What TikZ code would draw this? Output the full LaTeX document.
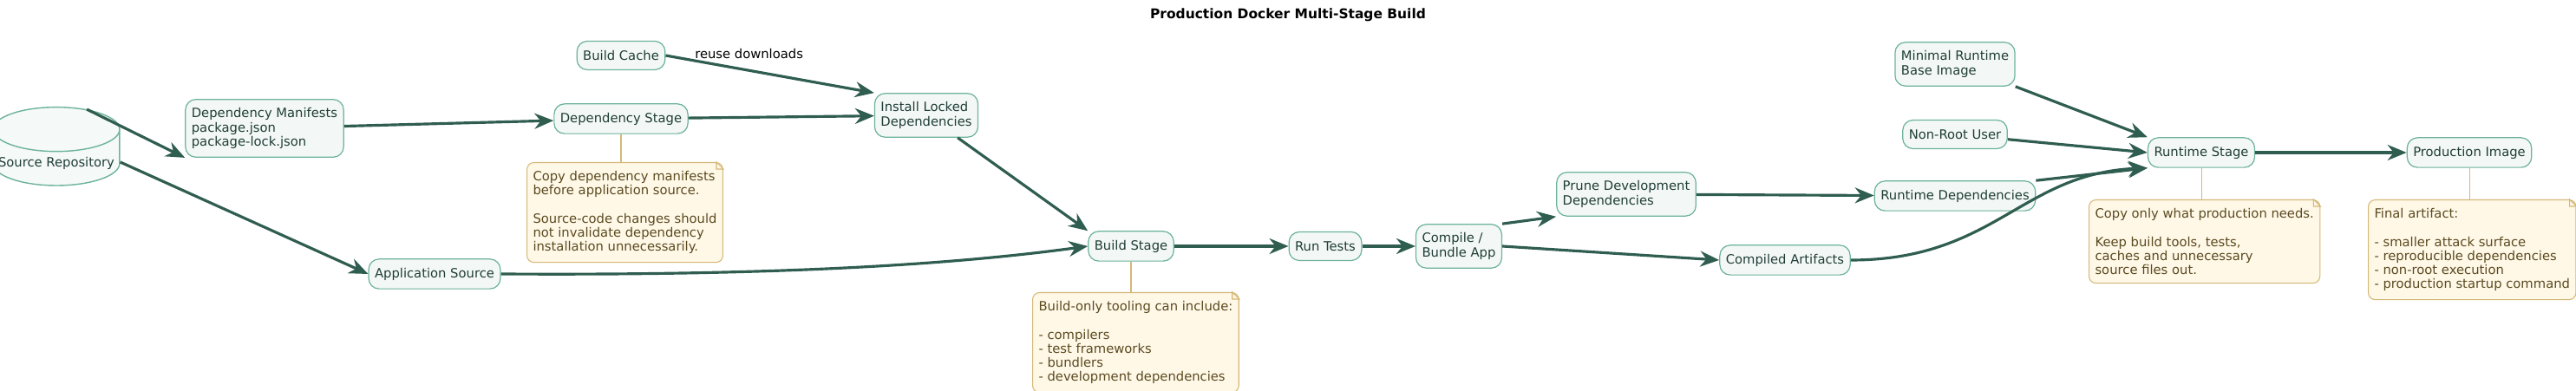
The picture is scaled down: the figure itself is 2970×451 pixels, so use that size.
\documentclass[tikz,border=0pt]{standalone}
\usepackage{fontspec}
\setmainfont{DejaVu Sans}
\usetikzlibrary{shapes.geometric,arrows.meta}
\definecolor{nfill}{HTML}{F3F8F6}
\definecolor{nbord}{HTML}{6DB39A}
\definecolor{ntext}{HTML}{1F3D35}
\definecolor{arr}{HTML}{2F5D50}
\definecolor{notefill}{HTML}{FFF8E7}
\definecolor{notebord}{HTML}{D4B878}
\definecolor{notetext}{HTML}{5A4A20}
\tikzset{
  px/.style={x=0.1mm,y=-0.1mm},
  box/.style={draw=nbord,fill=nfill,rounded corners=1.2mm,text=ntext,align=left,
    font=\fontsize{4.2}{4.6}\selectfont,inner xsep=0.7mm,inner ysep=1mm,minimum height=3.3mm,line width=0.35pt},
  notebox/.style={draw=notebord,fill=notefill,rounded corners=0.8mm,text=notetext,align=left,anchor=north west,
    font=\fontsize{4.2}{4.6}\selectfont,inner xsep=0.7mm,inner ysep=1mm,line width=0.3pt},
  link/.style={draw=arr,line width=0.9pt,-{Stealth[length=2.2mm,width=1.8mm]}},
  notelink/.style={draw=notebord,line width=0.3pt},
}
\newcommand{\fold}[1]{\draw[notebord,line width=0.3pt,fill=notefill] ([xshift=-0.8mm]#1.north east) -- ([yshift=-0.8mm]#1.north east) -- ++(-0.8mm,0) -- cycle;}
\begin{document}
\begin{tikzpicture}[px]
\useasboundingbox (0,0) rectangle (2970,451);
\node[font=\bfseries\fontsize{4.4}{5}\selectfont] (title) at (1485,17) {Production Docker Multi-Stage Build};
\node[cylinder,shape border rotate=90,aspect=0.35,draw=nbord,fill=nfill!70!nbord!20,text=ntext,font=\fontsize{4.2}{4.6}\selectfont,minimum width=12.4mm,minimum height=4.9mm,inner sep=0.6mm,text depth=-1.3mm] (src) at (65,187) {Source Repository};
\node[box] (man) at (305,148) {Dependency Manifests\\package.json\\package-lock.json};
\node[box] (dep) at (716,137) {Dependency Stage};
\node[box] (cache) at (716,64) {Build Cache};
\node[box] (inst) at (1068,133) {Install Locked\\Dependencies};
\node[box] (app) at (501,316) {Application Source};
\node[box] (build) at (1304,284) {Build Stage};
\node[box] (tests) at (1528,284) {Run Tests};
\node[box] (comp) at (1682,284) {Compile /\\Bundle App};
\node[box] (prune) at (1875,224) {Prune Development\\Dependencies};
\node[box] (art) at (2058,300) {Compiled Artifacts};
\node[box] (rdep) at (2254,226) {Runtime Dependencies};
\node[box] (user) at (2254,155) {Non-Root User};
\node[box] (base) at (2254,74) {Minimal Runtime\\Base Image};
\node[box] (rt) at (2538,176) {Runtime Stage};
\node[box] (prod) at (2847,176) {Production Image};

\node[notebox] (n1) at (607,187) {Copy dependency manifests\\before application source.\\[4.6pt]Source-code changes should\\not invalidate dependency\\installation unnecessarily.};
\node[notebox] (n2) at (1190,337) {Build-only tooling can include:\\[4.6pt]- compilers\\- test frameworks\\- bundlers\\- development dependencies};
\node[notebox] (n3) at (2408,230) {Copy only what production needs.\\[4.6pt]Keep build tools, tests,\\caches and unnecessary\\source files out.};
\node[notebox] (n4) at (2730,230) {Final artifact:\\[4.6pt]- smaller attack surface\\- reproducible dependencies\\- non-root execution\\- production startup command};
\fold{n1}\fold{n2}\fold{n3}\fold{n4}
\draw[notelink] (dep.south) -- (n1.north -| dep.south);
\draw[notelink] (build.south) -- (n2.north -| build.south);
\draw[notelink] (rt.south) -- (n3.north -| rt.south);
\draw[notelink] (prod.south) -- (n4.north -| prod.south);

\draw[link] (src.60) -- (man.south west);
\draw[link] (src.east) -- (app.west);
\draw[link] (man) -- (dep);
\draw[link] (dep) -- (inst);
\draw[link] (cache.east) -- node[above,pos=0.4,font=\fontsize{4.2}{4.6}\selectfont,text=black] {reuse downloads} (inst.north west);
\draw[link] (inst) -- (build.north west);
\draw[link] (app.east) .. controls (900,318) and (1100,305) .. (build.west);
\draw[link] (build) -- (tests);
\draw[link] (tests) -- (comp);
\draw[link] (comp.north east) -- (prune.south west);
\draw[link] (comp.east) -- (art.west);
\draw[link] (prune) -- (rdep);
\draw[link] (rdep.north east) -- (rt.south west);
\draw[link] (art.east) .. controls (2300,300) and (2330,200) .. (rt.south west);
\draw[link] (user) -- (rt.west);
\draw[link] (base.south east) -- (rt.north west);
\draw[link] (rt) -- (prod);
\end{tikzpicture}
\end{document}
